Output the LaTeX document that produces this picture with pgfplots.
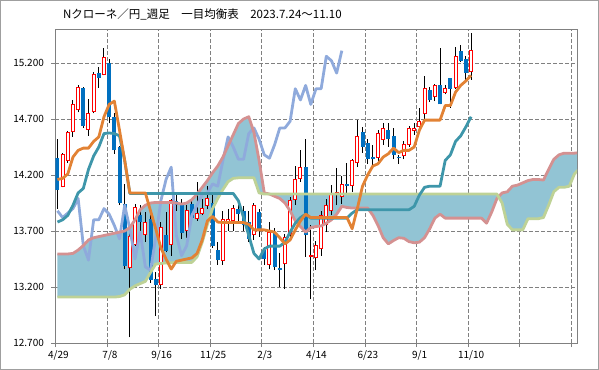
\documentclass[border=0pt]{standalone}
\usepackage{pgfplots}
\pgfplotsset{compat=1.18}
\usepackage{pgfplotstable}
\usepgfplotslibrary{fillbetween}
\usepackage{fontspec}
\setmainfont{Noto Sans CJK JP}
\definecolor{cblue}{RGB}{0,112,192}
\definecolor{cred}{RGB}{255,0,0}
\definecolor{tenkan}{RGB}{226,130,52}
\definecolor{kijun}{RGB}{62,150,170}
\definecolor{chikou}{RGB}{143,170,220}
\definecolor{spanA}{RGB}{212,145,145}
\definecolor{spanB}{RGB}{190,210,150}
\definecolor{cloud}{RGB}{146,196,212}
\definecolor{gridc}{RGB}{128,128,128}

% up candles (close > open)
\pgfplotstableread{
i o h l c
1 14.10 14.40 14.09 14.38
2 14.33 14.59 14.31 14.58
3 14.59 14.87 14.54 14.83
4 14.78 15.00 14.76 14.98
6 14.61 14.88 14.55 14.75
7 14.77 15.12 14.75 15.10
9 15.10 15.33 15.09 15.25
14 13.37 13.75 12.75 13.65
15 13.58 13.94 13.57 13.91
17 13.67 13.87 13.60 13.78
20 13.22 13.78 13.18 13.73
22 13.58 13.99 13.48 13.97
25 13.70 13.93 13.64 13.88
27 13.81 14.14 13.79 13.86
28 13.86 13.99 13.84 13.90
29 13.93 14.10 13.90 13.99
32 13.44 13.88 13.40 13.80
33 13.78 13.90 13.70 13.80
34 13.79 13.93 13.70 13.90
38 13.67 13.95 13.62 13.93
41 13.40 13.78 13.36 13.69
44 13.41 13.67 13.18 13.64
45 13.67 14.00 13.64 13.97
46 13.98 14.28 13.93 14.16
47 14.17 14.42 14.14 14.27
49 13.47 13.75 13.09 13.48
50 13.46 13.61 13.35 13.57
51 13.54 13.88 13.48 13.84
52 13.76 13.99 13.69 13.93
53 13.88 14.11 13.84 14.03
54 14.03 14.26 13.93 14.04
55 14.01 14.19 13.94 14.12
57 14.11 14.34 14.05 14.33
58 14.31 14.69 14.27 14.54
62 14.36 14.60 14.30 14.57
63 14.52 14.66 14.47 14.62
67 14.37 14.50 14.34 14.47
68 14.47 14.64 14.45 14.62
69 14.60 14.66 14.56 14.62
70 14.63 14.80 14.60 14.68
71 14.75 15.08 14.70 14.97
73 14.90 15.01 14.86 15.00
75 14.94 15.00 14.92 14.97
77 14.98 15.34 14.97 15.26
80 15.12 15.47 15.05 15.31
}\upc

% down candles (close < open)
\pgfplotstableread{
i o h l c
0 14.35 14.52 13.90 14.07
5 14.98 14.99 14.62 14.64
8 15.11 15.16 14.98 15.07
10 15.20 15.24 14.66 14.72
11 14.72 14.75 14.39 14.42
12 14.45 14.46 13.93 13.95
13 13.94 14.12 13.36 13.39
16 13.84 13.93 13.70 13.78
18 13.81 13.90 13.24 13.26
19 13.27 13.33 12.94 13.22
21 13.66 13.87 13.51 13.52
23 13.97 14.02 13.88 13.93
24 13.94 13.99 13.63 13.68
26 13.94 13.99 13.80 13.82
30 13.95 14.02 13.55 13.57
31 13.53 13.60 13.40 13.44
35 13.90 13.93 13.79 13.85
36 13.88 13.92 13.70 13.75
37 13.78 13.88 13.60 13.63
39 13.87 13.90 13.65 13.72
40 13.53 13.56 13.40 13.45
42 13.68 13.73 13.35 13.38
43 13.37 13.50 13.20 13.35
48 14.27 14.52 13.47 13.66
56 14.12 14.31 14.03 14.10
59 14.58 14.63 14.40 14.45
60 14.49 14.52 14.30 14.34
61 14.36 14.47 14.27 14.34
64 14.60 14.66 14.45 14.52
65 14.55 14.62 14.34 14.38
66 14.36 14.38 14.30 14.35
72 14.96 14.99 14.85 14.87
74 15.00 15.33 14.83 14.83
76 15.07 15.07 14.80 14.97
78 15.31 15.36 15.21 15.22
79 15.24 15.26 15.03 15.11
}\downc

% closes in time order (for the lagging span, plotted 25 weeks back)
\pgfplotstableread{
i c
25 13.88
26 13.82
27 13.86
28 13.90
29 13.99
30 13.57
31 13.44
32 13.80
33 13.80
34 13.90
35 13.85
36 13.75
37 13.63
38 13.93
39 13.72
40 13.45
41 13.69
42 13.38
43 13.35
44 13.64
45 13.97
46 14.16
47 14.27
48 13.66
49 13.48
50 13.57
51 13.84
52 13.93
53 14.03
54 14.04
55 14.12
56 14.10
57 14.33
58 14.54
59 14.45
60 14.34
61 14.34
62 14.57
63 14.62
64 14.52
65 14.38
66 14.35
67 14.47
68 14.62
69 14.62
70 14.68
71 14.97
72 14.87
73 15.00
74 14.83
75 14.97
76 14.97
77 15.26
78 15.22
79 15.11
80 15.31
}\closes

\pgfplotstableread{
i v
0 14.16
1 14.17
2 14.21
3 14.36
4 14.42
5 14.44
6 14.44
7 14.50
8 14.54
9 14.72
10 14.83
11 14.86
12 14.60
13 14.33
14 14.04
15 14.04
16 14.04
17 14.04
18 13.88
19 13.72
20 13.55
21 13.45
22 13.36
23 13.43
24 13.44
25 13.45
26 13.46
27 13.50
28 13.62
29 13.79
30 13.83
31 13.78
32 13.775
33 13.775
34 13.775
35 13.775
36 13.775
37 13.76
38 13.71
39 13.71
40 13.71
41 13.70
42 13.69
43 13.64
44 13.585
45 13.62
46 13.71
47 13.79
48 13.85
49 13.82
50 13.82
51 13.82
52 13.82
53 13.82
54 13.82
55 13.82
56 13.82
57 13.72
58 13.90
59 14.10
60 14.20
61 14.28
62 14.30
63 14.36
64 14.39
65 14.44
66 14.40
67 14.42
68 14.42
69 14.45
70 14.60
71 14.69
72 14.69
73 14.69
74 14.69
75 14.82
76 14.82
77 14.94
78 15.00
79 15.04
80 15.09
}\tenkantab

\pgfplotstableread{
i v
0 13.78
1 13.80
2 13.84
3 13.93
4 14.04
5 14.08
6 14.25
7 14.37
8 14.45
9 14.57
10 14.575
11 14.57
12 14.55
13 14.33
14 14.035
20 14.035
25 14.035
30 14.035
34 14.035
35 13.97
36 13.82
37 13.66
38 13.50
39 13.45
40 13.54
41 13.565
42 13.565
43 13.565
44 13.60
45 13.69
46 13.77
47 13.82
48 13.85
49 13.815
52 13.815
56 13.815
57 13.86
58 13.89
62 13.89
66 13.89
68 13.89
69 13.92
70 14.02
71 14.09
72 14.10
73 14.10
74 14.10
75 14.33
76 14.38
77 14.50
78 14.55
79 14.63
80 14.72
}\kijuntab

\pgfplotstableread{
i v
0 13.495
1 13.495
2 13.495
3 13.50
4 13.53
5 13.57
6 13.62
7 13.64
8 13.65
9 13.66
10 13.67
11 13.68
12 13.69
13 13.70
14 13.73
15 13.80
16 13.89
17 13.93
18 13.95
19 13.955
20 13.955
21 13.955
22 13.955
23 13.95
24 13.94
25 13.95
26 13.98
27 14.03
28 14.09
29 14.15
30 14.22
31 14.28
32 14.36
33 14.46
34 14.56
35 14.66
36 14.70
37 14.72
38 14.58
39 14.33
40 14.04
41 14.03
42 14.01
43 13.99
44 13.95
45 13.88
46 13.79
47 13.74
48 13.69
49 13.73
50 13.74
51 13.745
52 13.77
53 13.80
54 13.85
55 13.92
56 13.91
57 13.905
58 13.905
59 13.905
60 13.905
61 13.84
62 13.75
63 13.64
64 13.585
65 13.615
66 13.64
67 13.635
68 13.605
69 13.595
70 13.60
71 13.64
72 13.72
73 13.815
74 13.85
75 13.815
76 13.815
77 13.815
78 13.815
79 13.815
80 13.815
81 13.815
82 13.815
83 13.77
84 13.87
85 13.99
86 14.04
87 14.05
88 14.10
89 14.11
90 14.13
91 14.15
92 14.16
93 14.16
94 14.155
95 14.25
96 14.34
97 14.38
98 14.395
99 14.395
100 14.395
101 14.40
}\spanAtab

\pgfplotstableread{
i v
0 13.11
5 13.11
11 13.11
12 13.115
13 13.13
14 13.18
15 13.21
16 13.23
17 13.25
18 13.33
19 13.405
20 13.41
21 13.415
24 13.42
26 13.42
27 13.47
28 13.60
29 13.76
30 13.90
31 13.99
32 14.07
33 14.14
34 14.17
35 14.175
38 14.175
39 14.04
40 14.03
50 14.03
60 14.03
70 14.03
80 14.03
85 14.03
86 13.95
87 13.76
88 13.71
89 13.71
90 13.71
91 13.81
92 13.81
93 13.81
94 13.82
95 13.93
96 14.05
97 14.09
98 14.09
99 14.10
100 14.21
101 14.26
}\spanBtab

\begin{document}
\begin{tikzpicture}
\begin{axis}[
  at={(0,0)}, anchor=south west, scale only axis,
  width=521.6bp, height=313.6bp,
  xmin=-0.4, xmax=100.49, ymin=12.7, ymax=15.5,
  axis line style={gridc, line width=0.9bp},
  tick align=outside, major tick length=4bp,
  tick style={gridc, line width=0.8bp},
  xtick={-0.4,9.58,19.56,29.54,39.52,49.5,59.48,69.46,79.44,89.42,99.4},
  xticklabels={4/29,7/8,9/16,11/25,2/3,4/14,6/23,9/1,11/10,{},{}},
  ytick={12.7,13.2,13.7,14.2,14.7,15.2},
  yticklabels={12.700,13.200,13.700,14.200,14.700,15.200},
  xtick pos=bottom, ytick pos=left,
  xmajorgrids, ymajorgrids,
  grid style={gridc, line width=0.8bp, dash pattern=on 3.5bp off 2.5bp},
  ticklabel style={font=\fontsize{10bp}{12bp}\selectfont},
  xticklabel style={xshift=3bp},
  yticklabel style={xshift=-4bp},
]
% cloud
\addplot[draw=none, name path=A, forget plot] table[x=i, y=v] {\spanAtab};
\addplot[draw=none, name path=B, forget plot] table[x=i, y=v] {\spanBtab};
\addplot[fill=cloud, draw=none, forget plot] fill between[of=A and B];
% wicks
\addplot[black, line width=1bp, forget plot, -, quiver={u=0, v=\thisrow{h}-\thisrow{l}}] table[x=i, y=l] {\upc};
\addplot[black, line width=1bp, forget plot, -, quiver={u=0, v=\thisrow{h}-\thisrow{l}}] table[x=i, y=l] {\downc};
% down bodies
\addplot[cblue, line width=4bp, line cap=butt, forget plot, -, quiver={u=0, v=\thisrow{o}-\thisrow{c}}] table[x=i, y=c] {\downc};
% up bodies: red outline, white interior
\addplot[cred, line width=4bp, line cap=butt, forget plot, -, quiver={u=0, v=\thisrow{c}-\thisrow{o}+0.008}] table[x=i, y expr=\thisrow{o}-0.004] {\upc};
\addplot[white, line width=2bp, line cap=butt, forget plot, -, quiver={u=0, v={max(\thisrow{c}-\thisrow{o}-0.010,0)}}] table[x=i, y expr=\thisrow{o}+0.005] {\upc};
% lines
\addplot[chikou, line width=2.8bp, line join=round] table[x expr=\thisrow{i}-25, y=c] {\closes};
\addplot[spanA, line width=2.8bp, line join=round] table[x=i, y=v] {\spanAtab};
\addplot[spanB, line width=2.8bp, line join=round] table[x=i, y=v] {\spanBtab};
\addplot[kijun, line width=2.8bp, line join=round] table[x=i, y=v] {\kijuntab};
\addplot[tenkan, line width=2.8bp, line join=round] table[x=i, y=v] {\tenkantab};
\end{axis}
\node[anchor=west, inner sep=0pt, font=\fontsize{11.5bp}{13bp}\selectfont] at (7.5bp,328.5bp) {Nクローネ／円\_週足　一目均衡表　2023.7.24～11.10};
\draw[gray!75, line width=1bp] (-54.9bp,-26.5bp) rectangle (543.1bp,342.5bp);
\end{tikzpicture}
\end{document}
